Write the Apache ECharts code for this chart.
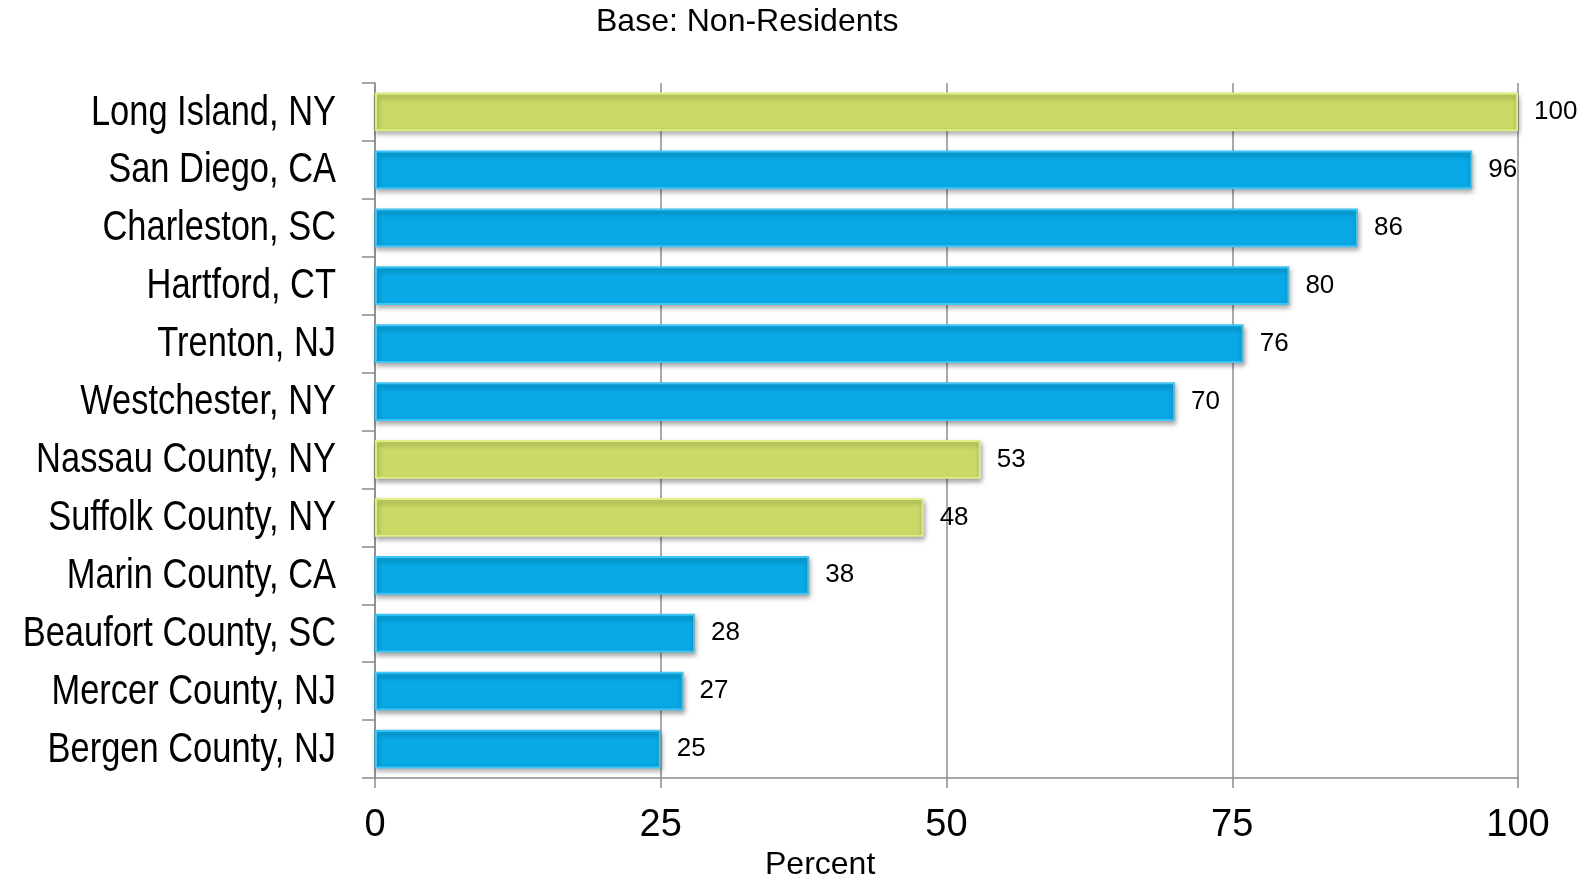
<!DOCTYPE html>
<html>
<head>
<meta charset="utf-8">
<script src="https://cdn.jsdelivr.net/npm/echarts@6/dist/echarts.min.js"></script>
<style>
  html, body { margin: 0; padding: 0; background: #fff; }
  #chart { width: 1580px; height: 879px; }
</style>
</head>
<body>
<div id="chart"></div>
<script>
// Places, top to bottom
const places = [
  'Long Island, NY', 'San Diego, CA', 'Charleston, SC', 'Hartford, CT',
  'Trenton, NJ', 'Westchester, NY', 'Nassau County, NY', 'Suffolk County, NY',
  'Marin County, CA', 'Beaufort County, SC', 'Mercer County, NJ', 'Bergen County, NJ'
];
// Index value per place (percent)
const values = [100, 96, 86, 80, 76, 70, 53, 48, 38, 28, 27, 25];
// Long Island areas are highlighted in green
const highlighted = [true, false, false, false, false, false, true, true, false, false, false, false];
const xTicks = [0, 25, 50, 75, 100];

const BLUE = '#08a9e6', BLUE_EDGE = '#3fc4f4';
const GREEN = '#cbd966', GREEN_EDGE = '#e0ec84';
const SANS = 'Liberation Sans, Arial, sans-serif';

const GRID_LEFT = 375;
const LABEL_GAP = 39;       // space between category labels and the value axis line
const LABEL_SQUEEZE = 0.82; // narrow-face look for the category names

const chart = echarts.init(document.getElementById('chart'));

chart.setOption({
  animation: false,
  grid: { left: GRID_LEFT, right: 62, top: 83, bottom: 101, containLabel: false, outerBoundsMode: 'none' },
  xAxis: {
    type: 'value',
    min: xTicks[0],
    max: xTicks[xTicks.length - 1],
    interval: 25,
    axisLine: { show: true, lineStyle: { color: '#8c8c8c', width: 1.5 } },
    axisTick: { show: true, length: 10, lineStyle: { color: '#8c8c8c', width: 1.5 } },
    splitLine: { show: true, lineStyle: { color: '#8c8c8c', width: 1.5 } },
    axisLabel: { color: '#000', fontSize: 38, fontFamily: SANS, margin: 29 }
  },
  yAxis: {
    type: 'category',
    data: places,
    inverse: true,
    axisLine: { show: true, lineStyle: { color: '#8c8c8c', width: 1.5 } },
    axisTick: { show: true, length: 13, lineStyle: { color: '#8c8c8c', width: 1.5 } },
    axisLabel: { show: false }
  },
  series: [{
    type: 'bar',
    barCategoryGap: '33%',
    data: values.map((v, i) => ({
      value: v,
      itemStyle: {
        color: highlighted[i] ? GREEN : BLUE,
        borderColor: highlighted[i] ? GREEN_EDGE : BLUE_EDGE,
        borderWidth: 2,
        shadowColor: 'rgba(0,0,0,0.35)',
        shadowBlur: 5,
        shadowOffsetY: 3,
        shadowOffsetX: 1
      }
    })),
    label: {
      show: true, position: 'right', distance: 16,
      color: '#000', fontSize: 26, fontFamily: SANS
    }
  }]
});

// Category names, placed at each band centre of the category axis, drawn in a narrowed face
const nameGraphics = places.map((name, i) => ({
  type: 'text',
  x: GRID_LEFT - LABEL_GAP,
  y: chart.convertToPixel({ yAxisIndex: 0 }, i) + 1,
  scaleX: LABEL_SQUEEZE,
  style: {
    text: name, fontSize: 42, fill: '#000', fontFamily: SANS,
    align: 'right', verticalAlign: 'middle'
  }
}));

chart.setOption({
  graphic: [
    {
      type: 'text', left: 596, top: 6,
      style: { text: 'Base: Non-Residents', fontSize: 32, fill: '#000', fontFamily: SANS }
    },
    {
      type: 'text', left: 765, top: 849,
      style: { text: 'Percent', fontSize: 32, fill: '#000', fontFamily: SANS }
    }
  ].concat(nameGraphics)
});
</script>
</body>
</html>
